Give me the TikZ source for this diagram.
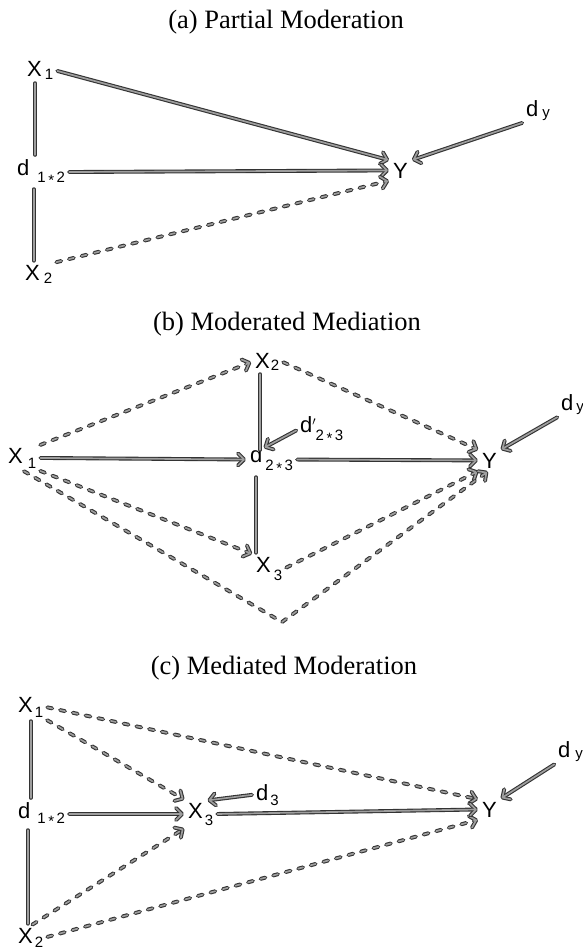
\documentclass[tikz,border=0pt]{standalone}
\usepackage{fontspec}
\setmainfont{Liberation Serif}
\newfontfamily\labfont{Liberation Sans}
\usetikzlibrary{arrows.meta}
\newcommand{\sbx}[3]{\hspace{#2pt}\raisebox{-#1pt}{\fontsize{15}{15}\selectfont #3}}
\newcommand{\mystar}{\,\raisebox{-3pt}{*}\,}
\newcommand{\myprime}{\raisebox{7pt}{\fontsize{13}{13}\selectfont$\prime$}}
\begin{document}
\begin{tikzpicture}[x=1pt,y=-1pt,
  lbl/.style={font=\labfont\fontsize{22}{22}\selectfont, inner sep=2pt, anchor=base west},
  ttl/.style={font=\fontsize{26.5}{26.5}\selectfont, inner sep=0pt},
  conn/.style={draw=black!80, line width=3.9pt, line cap=round, shorten <=2pt, shorten >=2pt,
    postaction={draw=black!38, line width=1.7pt}},
  arr/.style={draw=black!80, line width=3.9pt, line cap=round, shorten <=2pt, shorten >=2pt,
    -{Straight Barb[length=6pt,width=12pt,line join=round,line cap=round]},
    postaction={draw=black!38, line width=1.7pt, shorten >=3.1pt,
    -{Straight Barb[length=6pt,width=12pt,line join=round,line cap=round]}}},
  dsh/.style={dash pattern=on 5pt off 8pt}]
\useasboundingbox (0,0) rectangle (582,950);

% ---------- (a) ----------
\node[ttl] (ta) at (286,22) {(a) Partial Moderation};
\node[lbl] (a-x1) at (25,77) {X\sbx{2}{3}{1}};
\node[lbl] (a-d12) at (15,175) {d\sbx{7}{8}{1\mystar 2}};
\node[lbl] (a-x2) at (23,280) {X\sbx{3}{4}{2}};
\node[lbl] (a-y) at (391,178) {Y};
\node[lbl] (a-dy) at (524,116) {d\sbx{1}{4}{y}};

\draw[conn] ([xshift=-5pt]a-x1.south) -- ([xshift=-5pt]a-x1.south |- a-d12.north);
\draw[conn] ([xshift=-5pt]a-x2.north) -- ([xshift=-5pt]a-x2.north |- a-d12.south);
\draw[arr] (a-x1.east) -- (a-y.north west);
\draw[arr] (a-d12.east) -- (a-y.west);
\draw[arr,dsh] (a-x2.north east) -- (a-y.south west);
\draw[arr] (a-dy.south west) -- (a-y.north east);

% ---------- (b) ----------
\node[ttl] (tb) at (287,324) {(b) Moderated Mediation};
\node[lbl] (b-x1) at (6,463) {X\sbx{5}{5}{1}};
\node[lbl] (b-x2) at (253,368) {X\sbx{2}{1}{2}};
\node[lbl] (b-d23) at (248,462) {d\sbx{8}{3}{2\mystar 3}};
\node[lbl] (b-dp) at (298,432) {d\myprime\sbx{8}{0}{2\mystar 3}};
\node[lbl] (b-x3) at (254,572) {X\sbx{8}{3}{3}};
\node[lbl] (b-y) at (480,468) {Y};
\node[lbl] (b-dy) at (559,410) {d\sbx{1}{3}{y}};
\coordinate (b-v) at (282,622);

\draw[arr,dsh] (b-x1.north east) -- (b-x2.west);
\draw[arr,dsh] (b-x2.east) -- (b-y.north west);
\draw[conn] ([xshift=-7pt]b-x2.south) -- ([xshift=-7pt,yshift=-8pt]b-x2.south |- b-d23.north);
\draw[arr] (b-dp.west) -- ([xshift=14pt,yshift=-5pt]b-d23.north west);
\draw[arr] (b-x1.east) -- (b-d23.west);
\draw[arr] (b-d23.east) -- (b-y.west);
\draw[arr] (b-dy.south west) -- (b-y.north east);
\draw[conn] ([xshift=8pt]b-d23.south west) -- ([xshift=8pt]b-d23.south west |- b-x3.north);
\draw[arr,dsh] (b-x1.south east) -- (b-x3.north west);
\draw[arr,dsh] (b-x3.east) -- (b-y.south west);
\draw[arr,dsh] (b-x1.south) -- (b-v) -- (b-y.south);

% ---------- (c) ----------
\node[ttl] (tc) at (284,668) {(c) Mediated Moderation};
\node[lbl] (c-x1) at (16,712) {X\sbx{5}{2}{1}};
\node[lbl] (c-d12) at (16,818) {d\sbx{5}{7}{1\mystar 2}};
\node[lbl] (c-x2) at (16,943) {X\sbx{4}{2}{2}};
\node[lbl] (c-x3) at (186,818) {X\sbx{7}{2}{3}};
\node[lbl] (c-d3) at (254,800) {d\sbx{5}{2}{3}};
\node[lbl] (c-y) at (480,817) {Y};
\node[lbl] (c-dy) at (556,757) {d\sbx{1}{5}{y}};

\draw[conn] (c-x1.south) -- (c-x1.south |- c-d12.north);
\draw[conn] ([xshift=-3pt]c-x2.north) -- ([xshift=-3pt]c-x2.north |- c-d12.south);
\draw[arr,dsh] (c-x1.east) -- (c-y.north west);
\draw[arr,dsh] (c-x1.south east) -- (c-x3.north west);
\draw[arr] (c-d12.east) -- (c-x3.west);
\draw[arr,dsh] (c-x2.north) -- (c-x3.south west);
\draw[arr,dsh] (c-x2.east) -- (c-y.south west);
\draw[arr] (c-d3.west) -- ([xshift=-10pt]c-x3.north east);
\draw[arr] (c-x3.east) -- (c-y.west);
\draw[arr] (c-dy.south west) -- (c-y.north east);
\end{tikzpicture}
\end{document}
